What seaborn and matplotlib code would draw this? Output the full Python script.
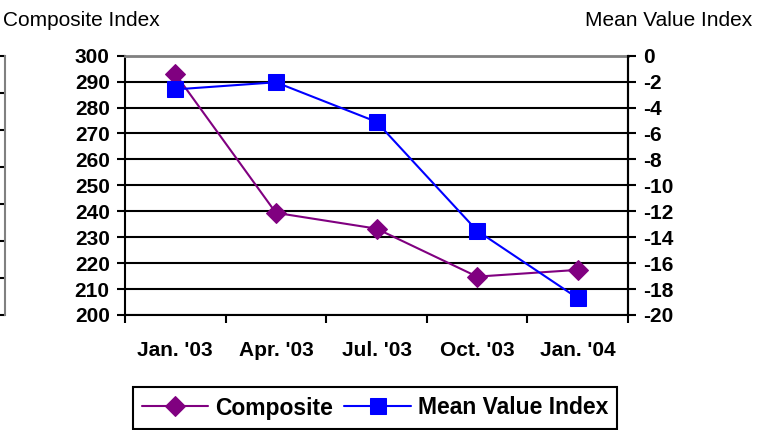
import numpy as np
import pandas as pd
import matplotlib.pyplot as plt
from matplotlib.ticker import FixedLocator
import seaborn as sns

sns.set_theme(style="white")
plt.rcParams["font.family"] = ["Liberation Sans", "DejaVu Sans"]
plt.rcParams["text.color"] = "black"
plt.rcParams["xtick.color"] = "black"
plt.rcParams["ytick.color"] = "black"

PURPLE = "#800080"
BLUE = "#0000FF"

quarters = ["Jan. '03", "Apr. '03", "Jul. '03", "Oct. '03", "Jan. '04"]
composite = [293.0, 239.4, 233.3, 214.8, 217.4]
mean_value = [-2.6, -2.05, -5.1, -13.5, -18.7]

df = pd.DataFrame({"quarter": quarters, "composite": composite, "mean_value": mean_value})

fig = plt.figure(figsize=(7.67, 4.3), dpi=100)
W, H = 767, 430
left, right, top, bottom = 125, 628, 55.7, 315
ax = fig.add_axes([left / W, 1 - bottom / H, (right - left) / W, (bottom - top) / H])
ax2 = ax.twinx()

# cropped fragment of a neighbouring chart at the far left
axf = fig.add_axes([-0.2, 1 - bottom / H, 0.2 + 5 / W, (bottom - top) / H])
axf.set_ylim(0, 7)
axf.set_yticks(range(8))
axf.set_xticks([])
for s in ["left", "top", "bottom"]:
    axf.spines[s].set_visible(False)
axf.spines["right"].set_color("#808080")
axf.spines["right"].set_linewidth(1.5)
axf.yaxis.tick_right()
axf.tick_params(axis="y", direction="in", length=5, width=1.5, color="black", labelright=False)
axf.patch.set_visible(False)

sns.lineplot(data=df, x="quarter", y="composite", ax=ax, color=PURPLE, marker="D",
             markersize=10, markeredgecolor=PURPLE, linewidth=1.5, sort=False)
sns.lineplot(data=df, x="quarter", y="mean_value", ax=ax2, color=BLUE, marker="s",
             markersize=11, markeredgecolor=BLUE, linewidth=1.5, sort=False)

ax.set_xlim(-0.5, len(quarters) - 0.5)
ax.set_ylim(200, 300)
ax.set_yticks(np.arange(200, 301, 10))
ax2.set_ylim(-20, 0)
ax2.set_yticks(np.arange(-20, 1, 2))

ax.set_xlabel("")
ax.set_ylabel("")
ax2.set_ylabel("")

ax.yaxis.grid(True, color="black", linewidth=1.5)
ax.set_axisbelow(True)

for s in ax.spines.values():
    s.set_color("black")
    s.set_linewidth(1.5)
ax.spines["top"].set_color("#808080")
ax.spines["top"].set_linewidth(2)
ax.spines["top"].set_zorder(5)
for s in ["top", "left", "bottom"]:
    ax2.spines[s].set_visible(False)
ax2.spines["right"].set_color("black")
ax2.spines["right"].set_linewidth(1.5)

bold = {"fontsize": 15, "fontweight": "bold", "color": "black"}
ax.tick_params(axis="y", left=True, direction="out", length=6, width=1.5, color="black", pad=5)
ax2.tick_params(axis="y", right=True, direction="out", length=6, width=1.5, color="black", pad=5)
ax.set_yticklabels([str(v) for v in range(200, 301, 10)], **bold)
ax2.set_yticklabels([str(v) for v in range(-20, 1, 2)], **bold)

ax.xaxis.set_minor_locator(FixedLocator(np.arange(-0.5, len(quarters), 1)))
ax.tick_params(axis="x", which="minor", bottom=True, direction="out", length=6, width=1.5, color="black")
ax.tick_params(axis="x", which="major", bottom=True, length=0, pad=19)
ax.set_xticks(range(len(quarters)))
ax.set_xticklabels(quarters, **bold)

fig.text(3 / W, 1 - 20 / H, "Composite Index", fontsize=15, ha="left", va="center")
fig.text(752 / W, 1 - 20 / H, "Mean Value Index", fontsize=15, ha="right", va="center")

handles = ax.get_lines()[:1] + ax2.get_lines()[:1]
leg = fig.legend(handles, ["Composite", "Mean Value Index"], loc="center",
                 bbox_to_anchor=(375 / W, 1 - 408 / H), ncol=2, frameon=True,
                 fancybox=False, edgecolor="black", framealpha=1,
                 prop={"size": 16.5, "weight": "bold"}, handlelength=2.9,
                 handletextpad=0.3, columnspacing=0.5, borderpad=0.4)
leg.get_frame().set_linewidth(1.5)

plt.savefig("out.png", dpi=100)
plt.close()
